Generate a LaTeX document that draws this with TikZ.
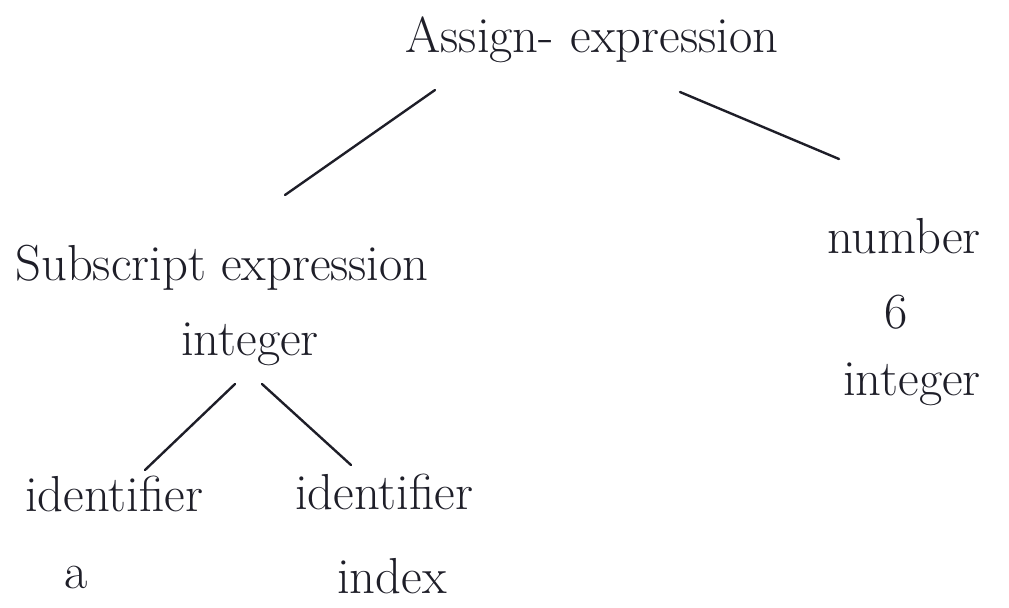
\documentclass[tikz,border=0pt]{standalone}
\usetikzlibrary{calc}

\definecolor{ink}{RGB}{30,30,40}

\begin{document}
\begin{tikzpicture}[
      word/.style={inner sep=1pt, text=ink, font=\fontsize{36}{40}\selectfont},
      branch/.style={ink, line width=1.7pt, line cap=round}
    ]
      \useasboundingbox (0,0) rectangle (25.225,-15.175);

      \node[word] (root) at (14.8,-1.0) {Assign-\,\,expression};

      \node[word] (subexp) at (5.55,-6.7) {Subscript expression};
      \node[word] (subint) at (6.25,-8.6) {integer};

      \node[word] (number) at (22.6,-5.9) {number};
      \node[word] (six) at (22.4,-7.8) {6};
      \node[word] (numint) at (22.8,-9.6) {integer};

      \node[word] (idleft) at (2.85,-12.35) {identifier};
      \node[word] (vara) at (1.9,-14.45) {a};
      \node[word] (idright) at (9.6,-12.3) {identifier};
      \node[word] (index) at (9.8,-14.4) {index};

      \draw[branch] ([shift={(-3.925,-1.25)}]root.center) -- ([shift={(1.575,1.825)}]subexp.center);
      \draw[branch] ([shift={(2.2,-1.3)}]root.center) -- ([shift={(-1.625,1.925)}]number.center);
      \draw[branch] ([shift={(-0.375,-1.0)}]subint.center) -- ([shift={(0.775,0.6)}]idleft.center);
      \draw[branch] ([shift={(0.3,-1.0)}]subint.center) -- ([shift={(-0.825,0.675)}]idright.center);
    \end{tikzpicture}
\end{document}
